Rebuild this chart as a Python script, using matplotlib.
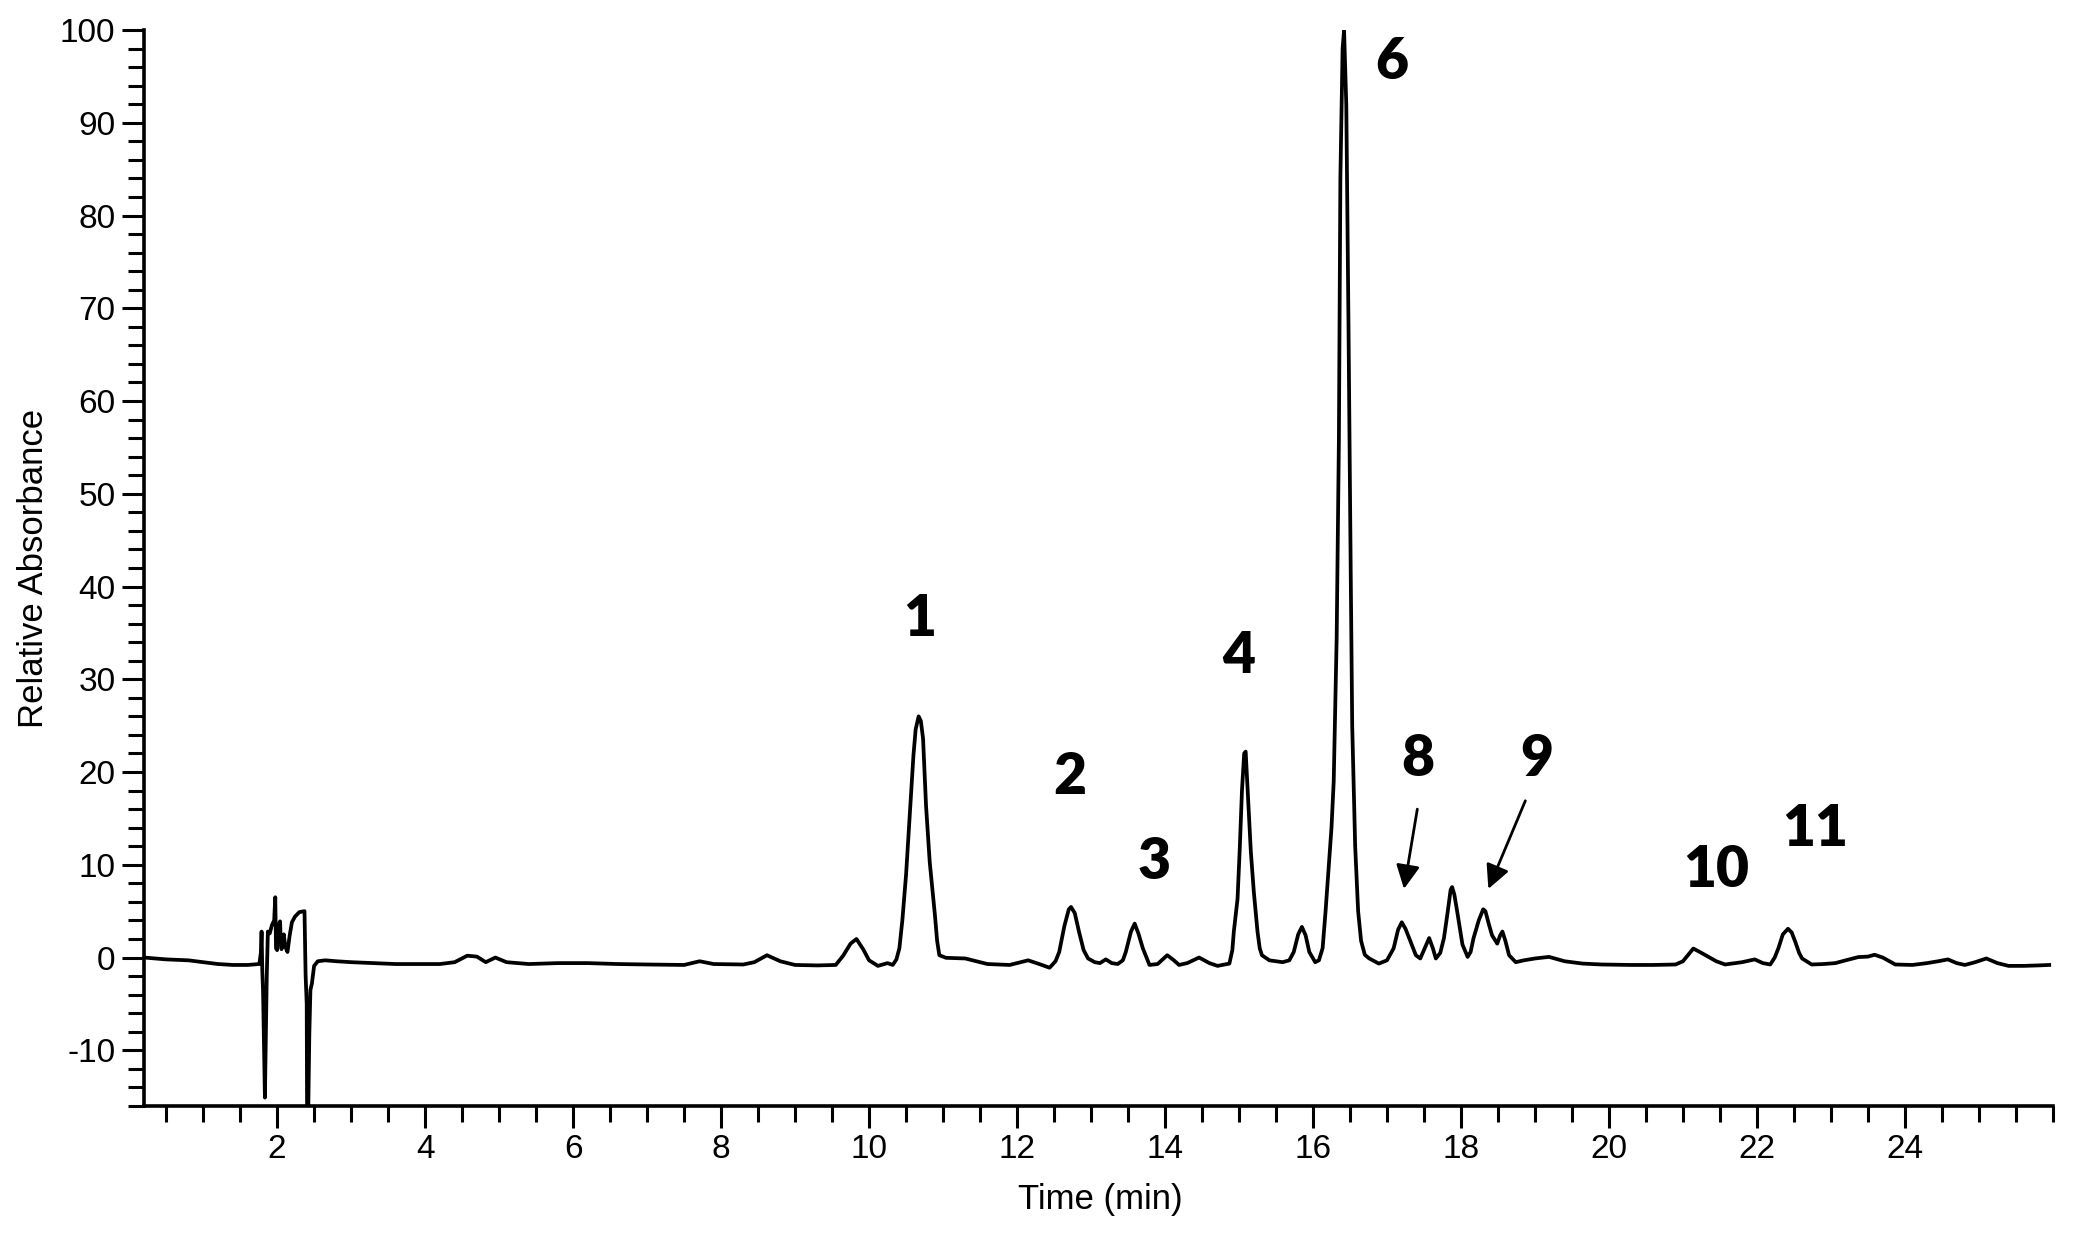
import matplotlib
matplotlib.use("Agg")
import matplotlib.pyplot as plt
from matplotlib.ticker import MultipleLocator

# ---- data ----
time_min = [
    0.2, 0.5, 0.8, 1.0, 1.2, 1.4, 1.6, 1.76,
    1.78, 1.79, 1.80, 1.81, 1.835, 1.845, 1.86, 1.875, 1.90, 1.93, 1.96, 1.975, 1.985,
    2.00, 2.02, 2.04, 2.05, 2.06, 2.09, 2.11, 2.14, 2.17, 2.20, 2.24, 2.30, 2.37, 2.385,
    2.40, 2.405, 2.42, 2.435, 2.45, 2.47, 2.50, 2.55, 2.65,
    2.8, 3.0, 3.3, 3.6, 3.9, 4.2, 4.4, 4.57, 4.7, 4.82, 4.95, 5.1, 5.4, 5.8, 6.2, 6.6,
    7.0, 7.5, 7.71, 7.9, 8.3, 8.45, 8.62, 8.8, 9.0, 9.3, 9.55, 9.65, 9.75, 9.83, 9.92,
    10.0, 10.12, 10.25, 10.32, 10.37, 10.41, 10.45, 10.50, 10.55, 10.60, 10.63, 10.67, 10.70,
    10.73, 10.77, 10.82, 10.89, 10.92, 10.95, 11.04, 11.3, 11.6, 11.9, 12.15, 12.3, 12.44,
    12.52, 12.57, 12.64, 12.70, 12.73, 12.78, 12.84, 12.90, 12.96, 13.05, 13.12, 13.2, 13.28,
    13.36, 13.43, 13.47, 13.54, 13.59, 13.64, 13.70, 13.75, 13.79, 13.9, 14.03, 14.12, 14.19, 14.3,
    14.46, 14.6, 14.71, 14.87, 14.91, 14.93, 14.98, 15.01, 15.04, 15.07, 15.09, 15.12, 15.16,
    15.20, 15.25, 15.28, 15.31, 15.41, 15.59, 15.68, 15.74, 15.80, 15.85, 15.90, 15.95, 16.03,
    16.08, 16.13, 16.17, 16.22, 16.25, 16.28, 16.32, 16.35, 16.37, 16.40, 16.42, 16.45,
    16.48, 16.51, 16.53, 16.57, 16.61, 16.65, 16.70, 16.76, 16.89, 17.0, 17.09, 17.15,
    17.20, 17.25, 17.30, 17.39, 17.45, 17.52, 17.57, 17.62, 17.66, 17.72, 17.77, 17.82,
    17.86, 17.88, 17.91, 17.95, 18.02, 18.09, 18.13, 18.17, 18.24, 18.30, 18.33, 18.38,
    18.42, 18.49, 18.53, 18.56, 18.60, 18.65, 18.74, 18.85, 19.0, 19.19, 19.4, 19.64,
    19.9, 20.3, 20.6, 20.9, 21.0, 21.14, 21.25, 21.35, 21.45, 21.57, 21.8, 21.97, 22.08,
    22.18, 22.24, 22.29, 22.35, 22.42, 22.47, 22.52, 22.57, 22.61, 22.74, 22.9, 23.06,
    23.2, 23.37, 23.5, 23.59, 23.7, 23.87, 24.1, 24.3, 24.45, 24.58, 24.7, 24.81, 24.95,
    25.10, 25.25, 25.4, 25.6, 25.8, 25.95,
]
absorbance = [
    0.0, -0.2, -0.3, -0.5, -0.7, -0.8, -0.8, -0.7,
    0.5, 2.8, -1.5, -3.7, -15.1, -10.0, -2.0, 2.8, 2.6, 3.5, 4.0, 6.5, 1.0,
    0.8, 3.5, 3.9, 1.5, 0.9, 2.5, 1.2, 0.6, 2.4, 3.8, 4.4, 4.9, 5.0, -1.9,
    -5.0, -17.0, -17.0, -8.4, -3.5, -2.8, -0.9, -0.4, -0.3,
    -0.4, -0.5, -0.6, -0.7, -0.7, -0.7, -0.5, 0.2, 0.1, -0.5, 0.0, -0.5, -0.7, -0.6, -0.6, -0.7,
    -0.75, -0.8, -0.4, -0.7, -0.75, -0.5, 0.25, -0.4, -0.8, -0.85, -0.8, 0.2, 1.5, 2.0, 0.9,
    -0.3, -0.9, -0.6, -0.8, -0.2, 1.0, 4.0, 8.9, 15.3, 21.8, 24.6, 26.0, 25.5,
    23.6, 16.4, 10.3, 4.6, 1.8, 0.25, -0.03, -0.1, -0.7, -0.8, -0.3, -0.7, -1.1,
    -0.4, 0.6, 3.4, 5.2, 5.45, 4.8, 2.7, 0.8, -0.1, -0.5, -0.6, -0.2, -0.6,
    -0.7, -0.3, 0.6, 2.8, 3.66, 2.6, 1.0, 0.0, -0.8, -0.7, 0.25, -0.3, -0.8, -0.6,
    0.0, -0.6, -0.9, -0.65, 0.8, 2.8, 6.3, 11.7, 18.0, 22.0, 22.2, 17.5, 11.4,
    7.1, 2.8, 1.0, 0.25, -0.3, -0.5, -0.3, 0.6, 2.5, 3.3, 2.4, 0.6, -0.5,
    -0.3, 1.0, 5.0, 10.6, 14.0, 19.0, 34.5, 55.8, 84.0, 98.0, 100.0, 91.9,
    68.0, 41.4, 25.0, 12.0, 5.0, 1.8, 0.3, -0.1, -0.65, -0.3, 1.0, 3.0,
    3.8, 3.1, 2.1, 0.25, -0.1, 1.2, 2.1, 1.0, -0.1, 0.5, 2.1, 4.9,
    7.3, 7.6, 6.8, 4.9, 1.4, 0.07, 0.6, 2.1, 4.0, 5.2, 5.0, 3.5,
    2.4, 1.5, 2.4, 2.8, 1.8, 0.25, -0.5, -0.3, -0.1, 0.07, -0.4, -0.65,
    -0.75, -0.8, -0.8, -0.75, -0.4, 0.97, 0.5, 0.05, -0.4, -0.75, -0.5, -0.2, -0.6,
    -0.75, 0.0, 1.0, 2.5, 3.1, 2.7, 1.65, 0.5, -0.1, -0.75, -0.7, -0.6,
    -0.3, 0.05, 0.1, 0.3, 0.0, -0.75, -0.8, -0.6, -0.4, -0.2, -0.6, -0.8, -0.5,
    -0.1, -0.6, -0.9, -0.9, -0.85, -0.8,
]

peak_labels = ["1", "2", "3", "4", "6", "8", "9", "10", "11"]
label_t = [10.69, 12.71, 13.86, 14.99, 17.06, 17.41, 19.03, 21.45, 22.79]
label_v = [36.5, 19.5, 10.3, 32.5, 96.6, 21.4, 21.4, 9.4, 13.9]

arrow_tail_t = [17.41, 18.87]
arrow_tail_v = [16.0, 16.9]
arrow_tip_t = [17.23, 18.37]
arrow_tip_v = [7.4, 7.4]

# ---- figure ----
fig = plt.figure(figsize=(20.77, 12.35), dpi=100)
ax = fig.add_axes([0.0693, 0.1045, 0.9191, 0.8712])

ax.plot(time_min, absorbance, color="black", lw=2.7, solid_joinstyle="round")

ax.set_xlim(0.2, 26)
ax.set_ylim(-16, 100)

for s in ["top", "right"]:
    ax.spines[s].set_visible(False)
for s in ["left", "bottom"]:
    ax.spines[s].set_linewidth(2.6)

ax.xaxis.set_minor_locator(MultipleLocator(0.5))
ax.yaxis.set_minor_locator(MultipleLocator(2))
ax.tick_params(axis="both", which="major", direction="out", length=15.5, width=2.2,
               labelsize=24, pad=5)
ax.tick_params(axis="both", which="minor", direction="out", length=11.5, width=2.2)
xt = [2, 4, 6, 8, 10, 12, 14, 16, 18, 20, 22, 24]
ax.set_xticks(xt)
ax.set_xticklabels([str(v) for v in xt], family="Liberation Sans", fontsize=24)
yt = list(range(-10, 101, 10))
ax.set_yticks(yt)
ax.set_yticklabels([str(v) for v in yt], family="Liberation Sans", fontsize=24)

ax.set_xlabel("Time (min)", family="Liberation Sans", fontsize=25)
ax.set_ylabel("Relative Absorbance", family="Liberation Sans", fontsize=25)
ax.xaxis.set_label_coords(0.501, -0.087)
ax.xaxis.label.set_va("center")
ax.yaxis.set_label_coords(-0.058, 0.5)
ax.yaxis.label.set_va("center")

for lab, t, v in zip(peak_labels, label_t, label_v):
    ax.text(t, v, lab, ha="center", va="center", fontsize=41, fontweight="heavy",
            family="Lato", color="black")

for tt, tv, ht, hv in zip(arrow_tail_t, arrow_tail_v, arrow_tip_t, arrow_tip_v):
    ax.annotate("", xy=(ht, hv), xytext=(tt, tv),
                arrowprops=dict(arrowstyle="-|>,head_length=0.8,head_width=0.4",
                                mutation_scale=18, lw=2.0, color="black",
                                shrinkA=0, shrinkB=0))

fig.savefig("out.png", dpi=100)
